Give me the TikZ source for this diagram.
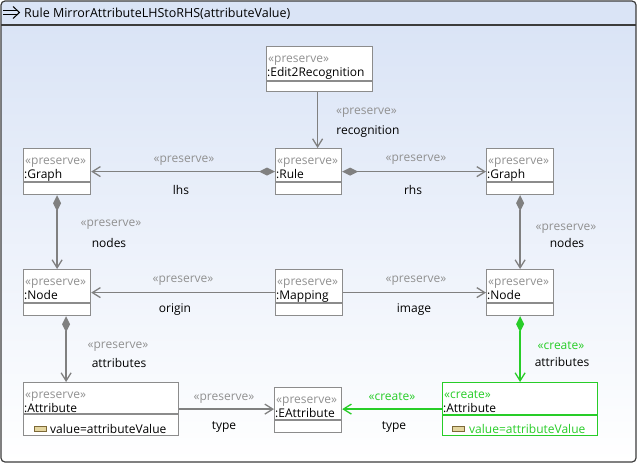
\documentclass[tikz,border=0pt]{standalone}
\usepackage{fontspec}
\setmainfont{Open Sans}
\usetikzlibrary{arrows.meta,calc}
\definecolor{boxp}{RGB}{140,140,140}
\definecolor{stp}{RGB}{145,145,145}
\definecolor{boxc}{RGB}{40,205,40}
\definecolor{stc}{RGB}{40,205,40}
\definecolor{pline}{RGB}{128,128,128}
\definecolor{hdr}{RGB}{218,228,246}
\definecolor{frm}{RGB}{60,60,60}
\definecolor{icofill}{RGB}{228,214,160}
\definecolor{icodraw}{RGB}{125,105,55}
\newcommand\umlnode[9]{%
  \node[umlbox=box#1, minimum width=#5pt, minimum height=#6pt] (#2) at (#3,#4) {};
  \draw[draw=box#1, line width=1.2pt] ($(#2.north west)+(0,#7)$) -- ($(#2.north east)+(0,#7)$);
  \node[stereo=st#1] (#2-s) at ($(#2.north west)+(2,16)$) {#8};
  \node[ttl] (#2-t) at ($(#2.north west)+(1,30)$) {#9};
}
\begin{document}
\begin{tikzpicture}[x=1pt,y=-1pt,font=\fontsize{12}{14}\selectfont,
  umlbox/.style={draw=#1, line width=1.2pt, fill=white, inner sep=0pt, anchor=north west},
  stereo/.style={text=#1, inner sep=0pt, anchor=base west},
  ttl/.style={text=black, inner sep=0pt, anchor=base west},
  lbl/.style={inner sep=0pt},
  slbl/.style={inner sep=0pt, text=stp},
  clbl/.style={inner sep=0pt, text=stc},
  pedge/.style={draw=pline, line width=1.5pt},
  cedge/.style={draw=boxc, line width=1.5pt},
  arr/.style={-{Straight Barb[length=8pt,width=10pt,line width=1.3pt]}},
  darr/.style={{Diamond[length=16pt,width=8pt]}-{Straight Barb[length=8pt,width=10pt,line width=1.3pt]}},
  attricon/.style={draw=icodraw, fill=icofill, line width=0.8pt, minimum width=12pt, minimum height=5pt, inner sep=0pt}
]
\useasboundingbox (0,0) rectangle (637,464);
% frame
\begin{scope}
  \clip[rounded corners=4pt] (1,1) rectangle (636,462);
  \fill[hdr] (1,1) rectangle (636,25);
  \shade[top color=hdr, bottom color=white] (1,25) rectangle (636,462);
\end{scope}
\draw[frm, line width=1.2pt, rounded corners=4pt] (1,1) rectangle (636,462);
\draw[frm, line width=1.2pt] (1,25) -- (636,25);
\draw[black, line width=1pt] (3,10.5) -- (17,10.5) (3,14.5) -- (17,14.5);
\draw[black, line width=1pt] (13,6.5) -- (19.5,12.5) -- (13,18.5);
\node[ttl, font=\fontsize{12.5}{14}\selectfont] (title) at (24,17.5) {Rule MirrorAttributeLHStoRHS(attributeValue)};

% nodes
\umlnode{p}{edit}{266}{46}{106}{45}{35}{«preserve»}{:Edit2Recognition}
\umlnode{p}{graphL}{23}{148}{67}{46}{34}{«preserve»}{:Graph}
\umlnode{p}{rule}{275}{148}{66}{46}{34}{«preserve»}{:Rule}
\umlnode{p}{graphR}{486}{148}{67}{46}{34}{«preserve»}{:Graph}
\umlnode{p}{nodeL}{23}{269}{67}{46}{34}{«preserve»}{:Node}
\umlnode{p}{mapping}{275}{269}{67}{46}{34}{«preserve»}{:Mapping}
\umlnode{p}{nodeR}{486}{269}{67}{46}{34}{«preserve»}{:Node}
\umlnode{p}{attrL}{23}{382}{155}{53}{32}{«preserve»}{:Attribute}
\umlnode{p}{eattr}{274}{387}{67}{45}{33}{«preserve»}{:EAttribute}
\umlnode{c}{attrR}{442}{382}{155}{53}{33}{«create»}{:Attribute}

\node[attricon] (attrL-i) at ($(attrL.south west)+(17,-7.5)$) {};
\node[ttl] (attrL-v) at ($(attrL.south west)+(27,-3)$) {value=attributeValue};
\node[attricon] (attrR-i) at ($(attrR.south west)+(16,-7.5)$) {};
\node[ttl, text=stc] (attrR-v) at ($(attrR.south west)+(27,-3)$) {value=attributeValue};

% edges
\coordinate (e1) at ($(edit.south)+(-2,0)$);
\draw[pedge, arr] (e1) -- (e1 |- rule.north);
\node[slbl] (l1s) at (366.5,113) {«preserve»};
\node[lbl] (l1t) at (368,131.5) {recognition};

\draw[pedge, darr] (rule.west) -- (rule.west -| graphL.east);
\node[slbl] (l2s) at (184,161) {«preserve»};
\node[lbl] (l2t) at (181,190) {lhs};

\draw[pedge, darr] (rule.east) -- (rule.east -| graphR.west);
\node[slbl] (l3s) at (416,160) {«preserve»};
\node[lbl] (l3t) at (413,189.5) {rhs};

\draw[pedge, darr] (graphL.south) -- (graphL.south |- nodeL.north);
\node[slbl] (l4s) at (111,224.5) {«preserve»};
\node[lbl] (l4t) at (109,243) {nodes};

\draw[pedge, darr] (graphR.south) -- (graphR.south |- nodeR.north);
\node[slbl] (l5s) at (566,229) {«preserve»};
\node[lbl] (l5t) at (567,243) {nodes};

\draw[pedge, arr] (mapping.west) -- (mapping.west -| nodeL.east);
\node[slbl] (l6s) at (183,280.5) {«preserve»};
\node[lbl] (l6t) at (175,310) {origin};

\draw[pedge, arr] (mapping.east) -- (mapping.east -| nodeR.west);
\node[slbl] (l7s) at (416,281) {«preserve»};
\node[lbl] (l7t) at (414,310) {image};

\coordinate (e8) at ($(nodeL.south)+(9,0)$);
\draw[pedge, darr] (e8) -- (e8 |- attrL.north);
\node[slbl] (l8s) at (118,347) {«preserve»};
\node[lbl] (l8t) at (119,363) {attributes};

\draw[cedge, darr] (nodeR.south) -- (nodeR.south |- attrR.north);
\node[clbl] (l9s) at (561,346) {«create»};
\node[lbl] (l9t) at (562,362) {attributes};

\draw[pedge, arr] (attrL.east) -- (attrL.east -| eattr.west);
\node[slbl] (l10s) at (224,398.5) {«preserve»};
\node[lbl] (l10t) at (224,426.5) {type};

\draw[cedge, arr] (attrR.west) -- (attrR.west -| eattr.east);
\node[clbl] (l11s) at (392,396.5) {«create»};
\node[lbl] (l11t) at (394,426.5) {type};
\end{tikzpicture}
\end{document}
